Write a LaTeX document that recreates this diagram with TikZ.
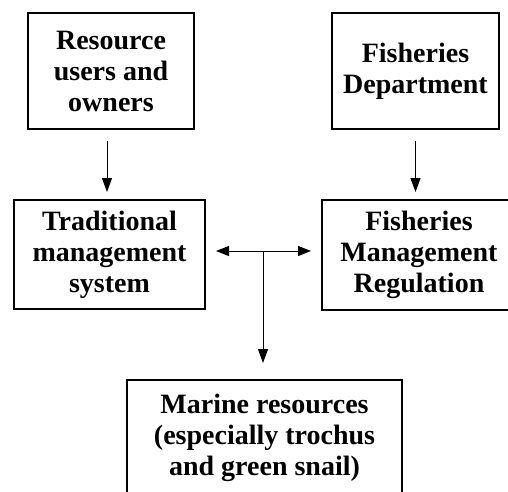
\documentclass[tikz,border=0pt]{standalone}
\usepackage{fontspec}
\setmainfont{Liberation Serif}
\usepackage{tikz}
\usetikzlibrary{arrows.meta,positioning,calc}
\tikzset{
  blockbox/.style={draw, line width=2pt, align=center, inner sep=0pt,
    font=\fontsize{28}{31}\selectfont\bfseries},
  flowarrow/.style={line width=1pt, -{Triangle[length=14pt,width=10pt]}},
  botharrow/.style={line width=1pt, {Triangle[length=13pt,width=10pt]}-{Triangle[length=13pt,width=10pt]}}
}

\begin{document}
\begin{tikzpicture}[x=1pt,y=-1pt]
          \clip (0,0) rectangle (508,491);
          % top row
          \node[blockbox, minimum width=166pt, minimum height=116pt] (ru) at (111,71)
                {Resource\\users and\\owners};
          \node[blockbox, minimum width=167pt, minimum height=116pt] (fd) at (415.5,71)
                {Fisheries\\Department};
          % middle row
          \node[blockbox, minimum width=191pt, minimum height=109pt] (tms) at (109.5,254.5)
                {Traditional\\management\\system};
          \node[blockbox, minimum width=194pt, minimum height=110pt] (fmr) at (419,255)
                {Fisheries\\Management\\Regulation};
          % bottom
          \node[blockbox, minimum width=275pt, minimum height=116pt, anchor=north] (mrn) at (264.5,379)
                {Marine resources\\(especially trochus\\and green snail)};
          \coordinate (mid) at (263,251);
          % arrows
          \draw[flowarrow, shorten <=11pt, shorten >=7pt]
                ([xshift=-4pt]ru.south) -- ([xshift=-4pt]ru.south |- tms.north);
          \draw[flowarrow, shorten <=11pt, shorten >=7pt]
                (fd.south) -- (fd.south |- fmr.north);
          \draw[botharrow, shorten <=10pt, shorten >=10pt]
                (tms.east |- mid) -- (fmr.west |- mid);
          \draw[flowarrow, shorten >=16pt] (mid) -- (mid |- mrn.north);
\end{tikzpicture}
\end{document}
